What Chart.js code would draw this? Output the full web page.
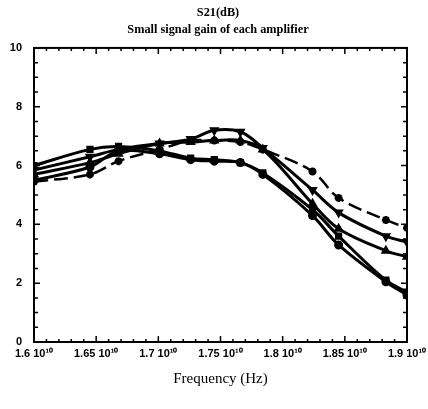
<!DOCTYPE html>
<html>
<head>
<meta charset="utf-8">
<script src="https://cdn.jsdelivr.net/npm/chart.js@4.4.1/dist/chart.umd.min.js"></script>
<style>
  html, body { margin: 0; padding: 0; background: #fff; }
  #wrap { width: 428px; height: 409px; }
</style>
</head>
<body>
<div id="wrap"><canvas id="c" width="428" height="409"></canvas></div>
<script>
// frequency in units of 10^10 Hz
const freqs = [1.6, 1.645, 1.668, 1.701, 1.726, 1.745, 1.766, 1.784, 1.824, 1.845, 1.883, 1.9];
const xTicks = [1.6, 1.65, 1.7, 1.75, 1.8, 1.85, 1.9];
const yTicks = [0, 2, 4, 6, 8, 10];

// S21 (dB) of each amplifier
const ampA = [5.5, 5.95, 6.5, 6.4, 6.2, 6.15, 6.1, 5.7, 4.3, 3.3, 2.05, 1.6];
const ampB = [5.85, 6.3, 6.55, 6.75, 6.9, 7.2, 7.15, 6.6, 5.17, 4.4, 3.6, 3.4];
const ampC = [5.7, 6.1, 6.4, 6.75, 6.8, 6.85, 6.85, 6.55, 4.7, 3.85, 3.1, 2.9];
const ampD = [5.45, 5.7, 6.15, 6.55, 6.85, 6.85, 6.8, 6.55, 5.8, 4.9, 4.15, 3.88];
const ampE = [6.0, 6.55, 6.65, 6.5, 6.25, 6.2, 6.1, 5.75, 4.5, 3.6, 2.1, 1.7];

const toPts = arr => arr.map((v, i) => ({ x: freqs[i], y: v }));

const frameTicks = {
  id: 'frameTicks',
  afterDatasetsDraw(chart) {
    const { ctx, chartArea: a, scales: { x, y } } = chart;
    ctx.save();
    ctx.strokeStyle = '#000';
    ctx.lineWidth = 2;
    ctx.strokeRect(a.left, a.top, a.right - a.left, a.bottom - a.top);
    ctx.lineWidth = 1.5;
    ctx.beginPath();
    for (let i = 0; i <= 30; i++) {
      const px = x.getPixelForValue(1.6 + i * 0.01);
      const len = i % 5 === 0 ? 6 : 3;
      ctx.moveTo(px, a.bottom); ctx.lineTo(px, a.bottom - len);
      ctx.moveTo(px, a.top); ctx.lineTo(px, a.top + len);
    }
    for (let i = 0; i <= 20; i++) {
      const py = y.getPixelForValue(i * 0.5);
      const len = i % 4 === 0 ? 6 : 4;
      ctx.moveTo(a.left, py); ctx.lineTo(a.left + len, py);
      ctx.moveTo(a.right, py); ctx.lineTo(a.right - len, py);
    }
    ctx.stroke();
    ctx.restore();
  }
};

const lineSet = (data, style, rot, dash) => ({
  data: toPts(data),
  borderColor: '#000',
  backgroundColor: '#000',
  borderWidth: dash ? 2.5 : 3,
  borderDash: dash || [],
  pointStyle: style,
  rotation: rot,
  pointRadius: style === 'star' ? 4 : 3,
  tension: 0.35,
  fill: false
});

new Chart(document.getElementById('c'), {
  type: 'line',
  data: {
    datasets: [
      lineSet(ampA, 'circle', 0),
      lineSet(ampB, 'triangle', 180),
      lineSet(ampC, 'triangle', 0),
      lineSet(ampD, 'star', 0, [14, 6]),
      lineSet(ampE, 'rect', 0)
    ]
  },
  options: {
    responsive: false,
    animation: false,
    layout: { padding: { left: 8, right: 0 } },
    plugins: {
      legend: { display: false },
      tooltip: { enabled: false },
      title: {
        display: true,
        text: ['S21(dB)', 'Small signal gain of each amplifier'],
        color: '#000',
        font: { family: 'Liberation Serif', size: 12.3, weight: 'bold', lineHeight: 1.42 },
        padding: { top: 4, bottom: 9 }
      }
    },
    scales: {
      x: {
        type: 'linear',
        min: 1.6, max: 1.9,
        afterBuildTicks: s => { s.ticks = xTicks.map(v => ({ value: v })); },
        afterFit: s => { s.height = 67; s.paddingRight = 21; },
        grid: { display: false, drawTicks: false },
        border: { display: false },
        ticks: {
          color: '#000',
          padding: 5,
          maxRotation: 0,
          autoSkip: false,
          font: { family: 'Liberation Sans', size: 11, weight: 'bold' },
          callback: v => v + ' 10\u00b9\u2070'
        },
        title: {
          display: true,
          text: 'Frequency (Hz)',
          color: '#000',
          font: { family: 'Liberation Serif', size: 15 },
          padding: { top: 0, bottom: 21 }
        }
      },
      y: {
        min: 0, max: 10,
        afterBuildTicks: s => { s.ticks = yTicks.map(v => ({ value: v })); },
        afterFit: s => { s.width = 26; },
        grid: { display: false, drawTicks: false },
        border: { display: false },
        ticks: {
          color: '#000',
          padding: 12,
          font: { family: 'Liberation Sans', size: 11, weight: 'bold' }
        }
      }
    }
  },
  plugins: [frameTicks]
});
</script>
</body>
</html>
